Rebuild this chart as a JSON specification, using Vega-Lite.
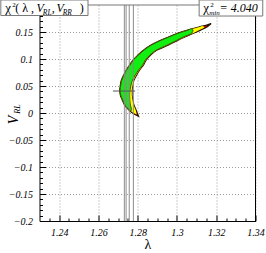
{
  "$schema": "https://vega.github.io/schema/vega-lite/v6.json",
  "width": 216,
  "height": 216,
  "autosize": {"type": "none"},
  "padding": {"left": 39.5, "top": 5, "right": 10.5, "bottom": 32},
  "background": "white",
  "config": {"view": {"stroke": null}},
  "data": {"values": [{"anchor": 1}]},
  "datasets": {
    "contour": [
      {"level": "r", "V": -0.0058, "lo": 1.2804, "hi": 1.2804},
      {"level": "r", "V": -0.0003, "lo": 1.2775, "hi": 1.2798},
      {"level": "r", "V": 0.0053, "lo": 1.2756, "hi": 1.2792},
      {"level": "r", "V": 0.0146, "lo": 1.2734, "hi": 1.2781},
      {"level": "r", "V": 0.0238, "lo": 1.2722, "hi": 1.2775},
      {"level": "r", "V": 0.0331, "lo": 1.2712, "hi": 1.2771},
      {"level": "r", "V": 0.0424, "lo": 1.2709, "hi": 1.2771},
      {"level": "r", "V": 0.0516, "lo": 1.2712, "hi": 1.2775},
      {"level": "r", "V": 0.0609, "lo": 1.2717, "hi": 1.2781},
      {"level": "r", "V": 0.0702, "lo": 1.2729, "hi": 1.2794},
      {"level": "r", "V": 0.0795, "lo": 1.2742, "hi": 1.2809},
      {"level": "r", "V": 0.0887, "lo": 1.2759, "hi": 1.2829},
      {"level": "r", "V": 0.098, "lo": 1.2776, "hi": 1.2843},
      {"level": "r", "V": 0.1073, "lo": 1.2802, "hi": 1.2866},
      {"level": "r", "V": 0.1166, "lo": 1.2831, "hi": 1.2899},
      {"level": "r", "V": 0.1258, "lo": 1.2868, "hi": 1.2955},
      {"level": "r", "V": 0.1332, "lo": 1.2908, "hi": 1.2996},
      {"level": "r", "V": 0.1407, "lo": 1.2957, "hi": 1.304},
      {"level": "r", "V": 0.1481, "lo": 1.3007, "hi": 1.3087},
      {"level": "r", "V": 0.1536, "lo": 1.3055, "hi": 1.312},
      {"level": "r", "V": 0.1592, "lo": 1.3111, "hi": 1.3152},
      {"level": "r", "V": 0.1629, "lo": 1.3152, "hi": 1.3165},
      {"level": "r", "V": 0.1657, "lo": 1.3174, "hi": 1.3174},
      {"level": "y", "V": -0.0028, "lo": 1.2795, "hi": 1.2795},
      {"level": "y", "V": 0.0053, "lo": 1.2758, "hi": 1.279},
      {"level": "y", "V": 0.0146, "lo": 1.2736, "hi": 1.2779},
      {"level": "y", "V": 0.0238, "lo": 1.2723, "hi": 1.2774},
      {"level": "y", "V": 0.0331, "lo": 1.2713, "hi": 1.277},
      {"level": "y", "V": 0.0424, "lo": 1.271, "hi": 1.277},
      {"level": "y", "V": 0.0516, "lo": 1.2713, "hi": 1.2774},
      {"level": "y", "V": 0.0609, "lo": 1.2718, "hi": 1.278},
      {"level": "y", "V": 0.0702, "lo": 1.273, "hi": 1.2793},
      {"level": "y", "V": 0.0795, "lo": 1.2743, "hi": 1.2808},
      {"level": "y", "V": 0.0887, "lo": 1.276, "hi": 1.2828},
      {"level": "y", "V": 0.098, "lo": 1.2777, "hi": 1.2842},
      {"level": "y", "V": 0.1073, "lo": 1.2803, "hi": 1.2865},
      {"level": "y", "V": 0.1166, "lo": 1.2832, "hi": 1.2898},
      {"level": "y", "V": 0.1258, "lo": 1.2869, "hi": 1.2954},
      {"level": "y", "V": 0.1332, "lo": 1.2909, "hi": 1.2995},
      {"level": "y", "V": 0.1407, "lo": 1.2958, "hi": 1.3038},
      {"level": "y", "V": 0.1481, "lo": 1.3008, "hi": 1.3084},
      {"level": "y", "V": 0.1536, "lo": 1.3057, "hi": 1.3114},
      {"level": "y", "V": 0.1592, "lo": 1.3114, "hi": 1.314},
      {"level": "y", "V": 0.1612, "lo": 1.3128, "hi": 1.3128},
      {"level": "g", "V": 0.003, "lo": 1.2766, "hi": 1.2766},
      {"level": "g", "V": 0.007, "lo": 1.2754, "hi": 1.2768},
      {"level": "g", "V": 0.0146, "lo": 1.2737, "hi": 1.2763},
      {"level": "g", "V": 0.0238, "lo": 1.2724, "hi": 1.276},
      {"level": "g", "V": 0.0331, "lo": 1.2714, "hi": 1.2759},
      {"level": "g", "V": 0.0424, "lo": 1.2711, "hi": 1.2761},
      {"level": "g", "V": 0.0516, "lo": 1.2714, "hi": 1.2766},
      {"level": "g", "V": 0.0609, "lo": 1.2719, "hi": 1.2774},
      {"level": "g", "V": 0.0702, "lo": 1.2731, "hi": 1.2788},
      {"level": "g", "V": 0.0795, "lo": 1.2744, "hi": 1.2804},
      {"level": "g", "V": 0.0887, "lo": 1.2761, "hi": 1.2825},
      {"level": "g", "V": 0.098, "lo": 1.2778, "hi": 1.2839},
      {"level": "g", "V": 0.1073, "lo": 1.2804, "hi": 1.2862},
      {"level": "g", "V": 0.1166, "lo": 1.2833, "hi": 1.2895},
      {"level": "g", "V": 0.1258, "lo": 1.287, "hi": 1.295},
      {"level": "g", "V": 0.1332, "lo": 1.291, "hi": 1.2991},
      {"level": "g", "V": 0.1407, "lo": 1.2959, "hi": 1.3032},
      {"level": "g", "V": 0.1481, "lo": 1.3009, "hi": 1.3076},
      {"level": "g", "V": 0.1536, "lo": 1.3057, "hi": 1.3082},
      {"level": "g", "V": 0.156, "lo": 1.307, "hi": 1.307}
    ],
    "vlines": [
      {"lambda": 1.2732},
      {"lambda": 1.2741},
      {"lambda": 1.2757},
      {"lambda": 1.2778}
    ],
    "hline": [
      {"V": 0.0407, "lo": 1.2674, "hi": 1.2787}
    ]
  },
  "resolve": {"axis": {"x": "independent", "y": "independent"}},
  "layer": [
    {
      "data": {"name": "contour"},
      "transform": [{"filter": "datum.level == 'r'"}],
      "mark": {"type": "area", "orient": "horizontal", "interpolate": "monotone", "fill": "#ff0000", "stroke": "#2a1400", "strokeWidth": 1.3},
      "encoding": {
        "y": {
          "field": "V", "type": "quantitative",
          "scale": {"domain": [-0.2, 0.2], "nice": false, "zero": false},
          "axis": {
            "orient": "left",
            "title": null,
            "values": [-0.2, -0.15, -0.1, -0.05, 0, 0.05, 0.1, 0.15],
            "format": "~g",
            "ticks": false,
            "grid": true,
            "gridDash": [1, 2],
            "gridColor": "#9a9a9a",
            "domain": true,
            "domainColor": "black",
            "labelFont": "Liberation Serif",
            "labelFontStyle": "italic",
            "labelFontSize": 10,
            "labelColor": "black",
            "labelPadding": 7,
            "labelOverlap": false,
            "labelBound": false,
            "labelFlush": false
          }
        },
        "x": {
          "field": "lo", "type": "quantitative",
          "scale": {"domain": [1.23, 1.34], "nice": false, "zero": false},
          "axis": {
            "orient": "bottom",
            "title": "λ",
            "values": [1.24, 1.26, 1.28, 1.3, 1.32, 1.34],
            "format": "~g",
            "ticks": false,
            "grid": true,
            "gridDash": [1, 2],
            "gridColor": "#9a9a9a",
            "domain": true,
            "domainColor": "black",
            "labelFont": "Liberation Serif",
            "labelFontStyle": "italic",
            "labelFontSize": 10,
            "labelColor": "black",
            "labelPadding": 6,
            "labelOverlap": false,
            "labelBound": false,
            "labelFlush": false,
            "titleFont": "Liberation Serif",
            "titleFontSize": 14,
            "titleFontWeight": "normal",
            "titleColor": "black",
            "titlePadding": 0
          }
        },
        "x2": {"field": "hi"}
      }
    },
    {
      "data": {"name": "contour"},
      "transform": [{"filter": "datum.level == 'y'"}],
      "mark": {"type": "area", "orient": "horizontal", "interpolate": "monotone", "fill": "#ffff00", "strokeWidth": 0},
      "encoding": {
        "y": {"field": "V", "type": "quantitative",
          "axis": {"orient": "left", "title": null, "values": [-0.2, -0.15, -0.1, -0.05, 0, 0.05, 0.1, 0.15, 0.2], "labels": false, "grid": false, "domain": false, "ticks": true, "tickSize": -6, "tickColor": "black", "tickWidth": 1}},
        "x": {"field": "lo", "type": "quantitative",
          "axis": {"orient": "bottom", "title": null, "values": [1.24, 1.26, 1.28, 1.3, 1.32, 1.34], "labels": false, "grid": false, "domain": false, "ticks": true, "tickSize": -6, "tickColor": "black", "tickWidth": 1}},
        "x2": {"field": "hi"}
      }
    },
    {
      "data": {"name": "contour"},
      "transform": [{"filter": "datum.level == 'g'"}],
      "mark": {"type": "area", "orient": "horizontal", "interpolate": "monotone", "fill": "#11ee11", "stroke": "#333300", "strokeWidth": 0.8},
      "encoding": {
        "y": {"field": "V", "type": "quantitative",
          "axis": {"orient": "left", "title": null, "values": [-0.19,-0.18,-0.17,-0.16,-0.14,-0.13,-0.12,-0.11,-0.09,-0.08,-0.07,-0.06,-0.04,-0.03,-0.02,-0.01,0.01,0.02,0.03,0.04,0.06,0.07,0.08,0.09,0.11,0.12,0.13,0.14,0.16,0.17,0.18,0.19], "labels": false, "grid": false, "domain": false, "ticks": true, "tickSize": -3, "tickColor": "black", "tickWidth": 1}},
        "x": {"field": "lo", "type": "quantitative",
          "axis": {"orient": "bottom", "title": null, "values": [1.235,1.245,1.25,1.255,1.265,1.27,1.275,1.285,1.29,1.295,1.305,1.31,1.315,1.325,1.33,1.335], "labels": false, "grid": false, "domain": false, "ticks": true, "tickSize": -3, "tickColor": "black", "tickWidth": 1}},
        "x2": {"field": "hi"}
      }
    },
    {
      "data": {"name": "vlines"},
      "mark": {"type": "rule", "color": "#8c8c8c", "strokeWidth": 1},
      "encoding": {"x": {"field": "lambda", "type": "quantitative", "axis": null}}
    },
    {
      "data": {"name": "hline"},
      "mark": {"type": "rule", "color": "#555555", "strokeWidth": 1},
      "encoding": {
        "y": {"field": "V", "type": "quantitative", "axis": null},
        "x": {"field": "lo", "type": "quantitative", "axis": null},
        "x2": {"field": "hi"}
      }
    },
    {
      "mark": {"type": "rule", "color": "#777777", "strokeWidth": 1.2},
      "encoding": {"y": {"datum": 0.2, "axis": null}}
    },
    {
      "mark": {"type": "rule", "color": "black", "strokeWidth": 1},
      "encoding": {"x": {"datum": 1.34, "axis": null}}
    },
    {
      "mark": {"type": "rect", "fill": "white", "stroke": "#777777", "strokeWidth": 1},
      "encoding": {"x": {"datum": 1.2103, "axis": null}, "x2": {"datum": 1.2547}, "y": {"datum": 0.2093, "axis": null}, "y2": {"datum": 0.1805}}
    },
    {
      "mark": {"type": "rect", "fill": "white", "stroke": "#777777", "strokeWidth": 1},
      "encoding": {"x": {"datum": 1.3113, "axis": null}, "x2": {"datum": 1.3437}, "y": {"datum": 0.2093, "axis": null}, "y2": {"datum": 0.1796}}
    },
    {
      "mark": {"type": "text", "text": "χ", "align": "left", "baseline": "alphabetic", "font": "Liberation Serif", "fontSize": 13, "color": "black"},
      "encoding": {"x": {"datum": 1.2126, "axis": null}, "y": {"datum": 0.1862, "axis": null}}
    },
    {
      "mark": {"type": "text", "text": "2", "align": "left", "baseline": "alphabetic", "font": "Liberation Serif", "fontSize": 7, "color": "black"},
      "encoding": {"x": {"datum": 1.2161, "axis": null}, "y": {"datum": 0.1962, "axis": null}}
    },
    {
      "mark": {"type": "text", "text": "( λ ,", "align": "left", "baseline": "alphabetic", "font": "Liberation Serif", "fontSize": 12, "color": "black"},
      "encoding": {"x": {"datum": 1.2176, "axis": null}, "y": {"datum": 0.1862, "axis": null}}
    },
    {
      "mark": {"type": "text", "text": "V", "align": "left", "baseline": "alphabetic", "font": "Liberation Serif", "fontStyle": "italic", "fontSize": 12, "color": "black"},
      "encoding": {"x": {"datum": 1.2285, "axis": null}, "y": {"datum": 0.1862, "axis": null}}
    },
    {
      "mark": {"type": "text", "text": "RL", "align": "left", "baseline": "alphabetic", "font": "Liberation Serif", "fontStyle": "italic", "fontSize": 7.5, "color": "black"},
      "encoding": {"x": {"datum": 1.2317, "axis": null}, "y": {"datum": 0.1822, "axis": null}}
    },
    {
      "mark": {"type": "text", "text": ",", "align": "left", "baseline": "alphabetic", "font": "Liberation Serif", "fontSize": 12, "color": "black"},
      "encoding": {"x": {"datum": 1.2363, "axis": null}, "y": {"datum": 0.1862, "axis": null}}
    },
    {
      "mark": {"type": "text", "text": "V", "align": "left", "baseline": "alphabetic", "font": "Liberation Serif", "fontStyle": "italic", "fontSize": 12, "color": "black"},
      "encoding": {"x": {"datum": 1.2386, "axis": null}, "y": {"datum": 0.1862, "axis": null}}
    },
    {
      "mark": {"type": "text", "text": "RR", "align": "left", "baseline": "alphabetic", "font": "Liberation Serif", "fontStyle": "italic", "fontSize": 7.5, "color": "black"},
      "encoding": {"x": {"datum": 1.2418, "axis": null}, "y": {"datum": 0.1822, "axis": null}}
    },
    {
      "mark": {"type": "text", "text": ")", "align": "left", "baseline": "alphabetic", "font": "Liberation Serif", "fontSize": 12, "color": "black"},
      "encoding": {"x": {"datum": 1.2505, "axis": null}, "y": {"datum": 0.1862, "axis": null}}
    },
    {
      "mark": {"type": "text", "text": "χ", "align": "left", "baseline": "alphabetic", "font": "Liberation Serif", "fontSize": 13, "color": "black"},
      "encoding": {"x": {"datum": 1.3134, "axis": null}, "y": {"datum": 0.1862, "axis": null}}
    },
    {
      "mark": {"type": "text", "text": "2", "align": "left", "baseline": "alphabetic", "font": "Liberation Serif", "fontSize": 7, "color": "black"},
      "encoding": {"x": {"datum": 1.3169, "axis": null}, "y": {"datum": 0.1966, "axis": null}}
    },
    {
      "mark": {"type": "text", "text": "min", "align": "left", "baseline": "alphabetic", "font": "Liberation Serif", "fontStyle": "italic", "fontSize": 7, "color": "black"},
      "encoding": {"x": {"datum": 1.3164, "axis": null}, "y": {"datum": 0.182, "axis": null}}
    },
    {
      "mark": {"type": "text", "text": "= 4.040", "align": "left", "baseline": "alphabetic", "font": "Liberation Serif", "fontStyle": "italic", "fontSize": 12, "color": "black"},
      "encoding": {"x": {"datum": 1.3217, "axis": null}, "y": {"datum": 0.1862, "axis": null}}
    },
    {
      "mark": {"type": "text", "text": "V", "angle": 270, "align": "left", "baseline": "alphabetic", "font": "Liberation Serif", "fontStyle": "italic", "fontSize": 14, "color": "black"},
      "encoding": {"x": {"datum": 1.2193, "axis": null}, "y": {"datum": -0.0207, "axis": null}}
    },
    {
      "mark": {"type": "text", "text": "RL", "angle": 270, "align": "left", "baseline": "alphabetic", "font": "Liberation Serif", "fontStyle": "italic", "fontSize": 8, "color": "black"},
      "encoding": {"x": {"datum": 1.2203, "axis": null}, "y": {"datum": -0.0012, "axis": null}}
    }
  ]
}
